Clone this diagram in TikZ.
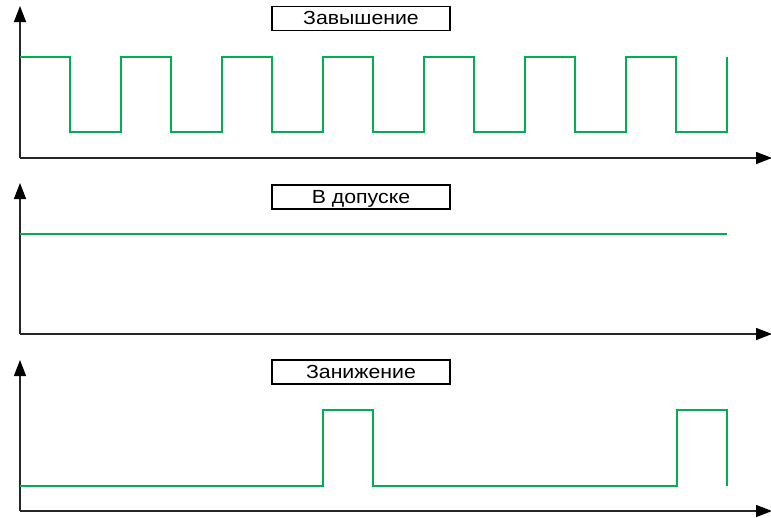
\documentclass[tikz,border=0pt]{standalone}
\usepackage{fontspec}
\setmainfont{Liberation Sans}
\newfontfamily\lblfont[FakeStretch=1.12]{Liberation Sans}
\usetikzlibrary{arrows.meta}
\definecolor{sig}{RGB}{0,176,80}
\tikzset{
  axis/.style={draw=black!85, line width=1.4pt, -{Triangle[length=16pt,width=12pt,color=black]}},
  signal/.style={draw=sig, line width=2.2pt, line join=miter},
  labelbox/.style={draw=black, line width=1.3pt, fill=white, minimum width=178pt, minimum height=24pt, inner sep=0pt, text height=15pt, text depth=3pt, font=\lblfont\fontsize{19}{19}\selectfont}
}
\begin{document}
\begin{tikzpicture}[x=1pt,y=-1pt]
\useasboundingbox (0,0) rectangle (771,517);
% panel 1
\coordinate (o1) at (20,158);
\coordinate (y1) at (20,6);
\coordinate (x1) at (772,158);
\draw[axis] (o1) -- (y1);
\draw[axis] (o1) -- (x1);
\draw[signal] (20,57)
  \foreach \k in {0,...,6} { -- ({70+101*\k},57) -- ({70+101*\k},132) -- ({121+101*\k},132) -- ({121+101*\k},57) }
  ;
\node[labelbox] (l1) at (361,18.5) {Завышение};
% panel 2
\coordinate (o2) at (20,334);
\coordinate (y2) at (20,183);
\coordinate (x2) at (772,334);
\draw[axis] (o2) -- (y2);
\draw[axis] (o2) -- (x2);
\draw[signal] (20,234) -- (727,234);
\node[labelbox] (l2) at (361,197) {В допуске};
% panel 3
\coordinate (o3) at (20,511);
\coordinate (y3) at (20,360);
\coordinate (x3) at (772,511);
\draw[axis] (o3) -- (y3);
\draw[axis] (o3) -- (x3);
\draw[signal] (20,486) -- (323,486) -- (323,410) -- (373,410) -- (373,486) -- (677,486) -- (677,410) -- (727,410) -- (727,486);
\node[labelbox] (l3) at (361,372) {Занижение};
\end{tikzpicture}
\end{document}
